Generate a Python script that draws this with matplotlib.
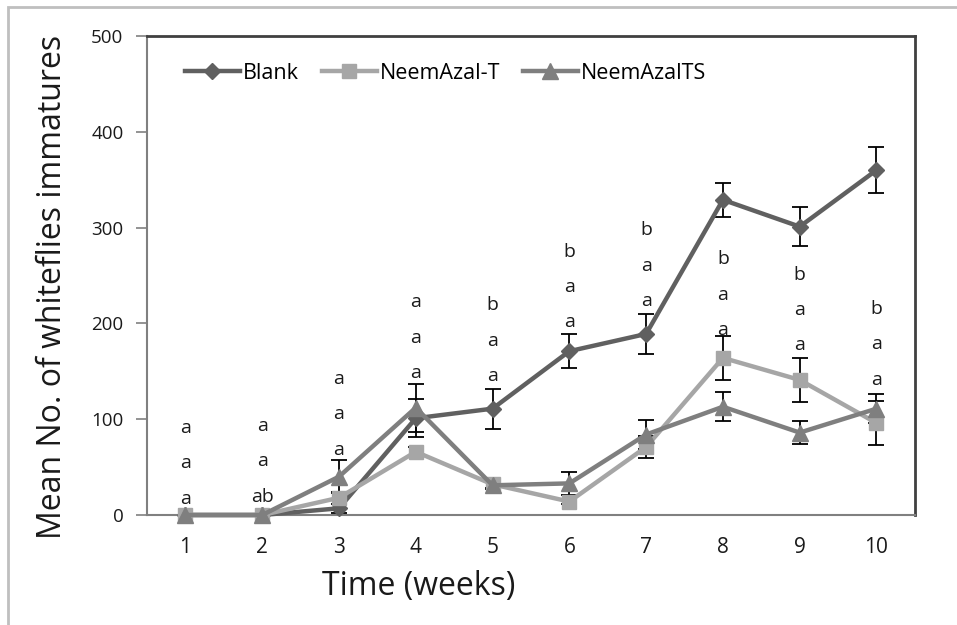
import matplotlib
matplotlib.use("Agg")
import matplotlib.pyplot as plt
from matplotlib.patches import Rectangle

plt.rcParams['font.family'] = ['Open Sans', 'DejaVu Sans']

# weekly counts of whitefly immatures per treatment
weeks = [1, 2, 3, 4, 5, 6, 7, 8, 9, 10]
blank = [0, 0, 7, 101, 111, 171, 189, 329, 301, 360]
blank_err = [0, 0, 5, 20, 21, 18, 21, 18, 20, 24]
neem_t = [0, 0, 18, 66, 32, 14, 71, 164, 141, 96]
neem_t_err = [0, 0, 6, 5, 4, 3, 11, 23, 23, 23]
neem_ts = [0, 0, 40, 112, 31, 33, 84, 113, 86, 111]
neem_ts_err = [0, 0, 17, 25, 4, 12, 15, 15, 12, 15]

# significance letters, top row first, with height of the lowest row
letters = [
    ["a", "a", "a"], ["a", "a", "ab"], ["a", "a", "a"], ["a", "a", "a"],
    ["b", "a", "a"], ["b", "a", "a"], ["b", "a", "a"], ["b", "a", "a"],
    ["b", "a", "a"], ["b", "a", "a"],
]
letter_base = [17, 19, 68, 148, 145, 201, 223, 193, 177, 141]
letter_step = 37

fig = plt.figure(figsize=(9.57, 6.25), dpi=100)
ax = fig.add_axes([0.1536, 0.176, 0.8024, 0.7664])

# outer chart-area border (only left and top visible)
fig.patches.append(Rectangle((8 / 957, -0.1), 1.2, 0.1 + 618 / 625,
                             transform=fig.transFigure, fill=False,
                             edgecolor='#bfbfbf', linewidth=2))

series = [
    ("Blank", blank, blank_err, '#606060', 'D', 8.5),
    ("NeemAzal-T", neem_t, neem_t_err, '#a6a6a6', 's', 10.5),
    ("NeemAzalTS", neem_ts, neem_ts_err, '#7f7f7f', '^', 11),
]
for name, vals, errs, col, mk, ms in series:
    ax.plot(weeks, vals, color=col, linewidth=3.2, marker=mk, markersize=ms,
            markeredgecolor=col, label=name, zorder=3, clip_on=False)
    # keep whiskers under the markers so tiny ones disappear
    ax.errorbar(weeks, vals, yerr=errs, fmt='none', ecolor='black',
                elinewidth=1.3, capsize=5.5, capthick=1.3, zorder=2)

for wk, rows, base in zip(weeks, letters, letter_base):
    for i, lt in enumerate(reversed(rows)):
        ax.text(wk, base + i * letter_step, lt, ha='center', va='center',
                fontsize=14, color='#1a1a1a', zorder=5)

ax.set_xlim(0.5, 10.5)
ax.set_ylim(0, 500)
ax.set_yticks([0, 100, 200, 300, 400, 500])
ax.set_xticks(weeks)
ax.tick_params(axis='y', direction='out', length=8, width=1.2,
               color='#808080', labelsize=13.5, pad=9)
ax.tick_params(axis='x', length=0, labelsize=15, pad=16)
for lbl in ax.get_xticklabels() + ax.get_yticklabels():
    lbl.set_color('#1a1a1a')

ax.spines['left'].set_color('#808080')
ax.spines['left'].set_linewidth(1.5)
ax.spines['bottom'].set_color('#808080')
ax.spines['bottom'].set_linewidth(1.5)
ax.spines['top'].set_color('#404040')
ax.spines['top'].set_linewidth(2)
ax.spines['right'].set_color('#404040')
ax.spines['right'].set_linewidth(2)

ax.set_xlabel("Time (weeks)", fontsize=23, color='#1a1a1a')
ax.xaxis.set_label_coords(0.354, -0.115)
ax.set_ylabel("Mean No. of whiteflies immatures", fontsize=23,
              color='#1a1a1a')
ax.yaxis.set_label_coords(-0.101, 0.476)

ax.legend(loc='center left', bbox_to_anchor=(0.0495, 0.922), ncol=3,
          frameon=False, fontsize=15.5, handlelength=2.55, handletextpad=0.15,
          columnspacing=1.05, borderaxespad=0, borderpad=0)

fig.savefig("out.png", dpi=100)
